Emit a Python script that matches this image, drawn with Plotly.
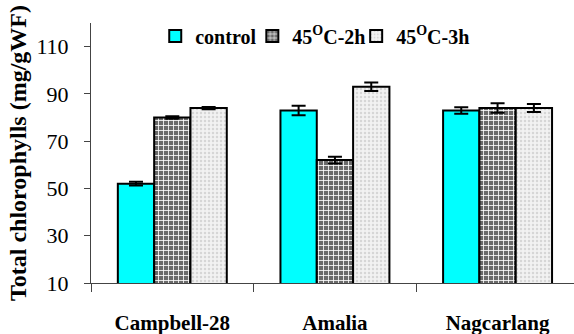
import plotly.graph_objects as go

# Cultivars and total chlorophyll content (mg/gWF) per heat treatment
cultivars = ["Campbell-28", "Amalia", "Nagcarlang"]
control = [52, 83, 83]
heat_2h = [80, 62, 84]
heat_3h = [84, 93, 84]
control_err = [0.8, 2.0, 1.4]
heat_2h_err = [0.5, 1.4, 2.0]
heat_3h_err = [0.5, 1.8, 1.7]
series_names = ["control", "45<sup>O</sup>C-2h", "45<sup>O</sup>C-3h"]

serif = "Liberation Serif"
err_style = dict(type="data", thickness=2, width=7, color="black")
outline = dict(color="black", width=2)


def bold(s):
    return "<b>" + s + "</b>"


fig = go.Figure()
fig.add_trace(go.Bar(
    name=bold(series_names[0]), x=cultivars, y=control, legend="legend",
    error_y=dict(array=control_err, **err_style),
    marker=dict(color="#00ffff", line=outline),
))
fig.add_trace(go.Bar(
    name=bold(series_names[1]), x=cultivars, y=heat_2h, legend="legend2",
    error_y=dict(array=heat_2h_err, **err_style),
    marker=dict(color="#6a6a6a", line=outline,
                pattern=dict(shape="+", fgcolor="#ffffff", bgcolor="#6a6a6a",
                             size=5, solidity=0.3, fillmode="replace")),
))
fig.add_trace(go.Bar(
    name=bold(series_names[2]), x=cultivars, y=heat_3h, legend="legend3",
    error_y=dict(array=heat_3h_err, **err_style),
    marker=dict(color="#f2f2f2", line=outline,
                pattern=dict(shape=".", fgcolor="#d6d6d6", bgcolor="#f2f2f2",
                             size=4, solidity=0.3, fillmode="replace")),
))

# one legend box per series so the entries sit close together in a row
legend_style = dict(
    orientation="h", y=0.95, xanchor="left", yanchor="middle",
    font=dict(family=serif, size=20, color="black"),
    itemwidth=30, bgcolor="rgba(0,0,0,0)",
)

fig.update_layout(
    width=574, height=334,
    margin=dict(l=91, r=0, t=23, b=51),
    paper_bgcolor="white", plot_bgcolor="white",
    barmode="group", bargap=0.33, bargroupgap=0,
    font=dict(family=serif, size=20, color="black"),
    showlegend=True,
    legend=dict(x=0.133, **legend_style),
    legend2=dict(x=0.334, **legend_style),
    legend3=dict(x=0.549, **legend_style),
    xaxis=dict(
        range=[-0.5, 2.47], tickson="boundaries",
        tickmode="array", tickvals=cultivars,
        ticktext=[bold(c) for c in cultivars],
        ticks="outside", ticklen=8, tickcolor="#444",
        showline=True, linecolor="#444", linewidth=1,
        tickfont=dict(family=serif, size=21),
        ticklabelstandoff=21,
        showgrid=False,
    ),
    yaxis=dict(
        range=[10, 120], tick0=10, dtick=20,
        ticks="outside", ticklen=6, tickcolor="#444",
        showline=True, linecolor="#444", linewidth=1,
        tickfont=dict(family=serif, size=22),
        ticklabelstandoff=11,
        showgrid=False, zeroline=False,
        title=dict(text=bold("Total chlorophylls (mg/gWF)"), standoff=3,
                   font=dict(family=serif, size=24)),
    ),
)

fig.write_html("out.html")
